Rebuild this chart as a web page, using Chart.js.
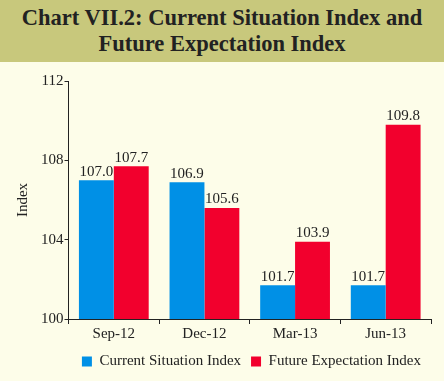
<!DOCTYPE html>
<html>
<head>
<meta charset="utf-8">
<script src="https://cdn.jsdelivr.net/npm/chart.js@4"></script>
<style>
  html,body{margin:0;padding:0;width:444px;height:381px;overflow:hidden;background:#fdfde9;}
  #title{height:62px;background:#c8c87c;color:#222;font-family:"Liberation Serif","Times New Roman",Times,serif;font-weight:bold;font-size:22.5px;line-height:26px;text-align:center;padding-top:5px;box-sizing:border-box;}
  #wrap{position:relative;width:444px;height:319px;}
</style>
</head>
<body>
<div id="title">Chart VII.2: Current Situation Index and<br>Future Expectation Index</div>
<div id="wrap"><canvas id="c" width="444" height="319"></canvas></div>
<script>
const categories = ["Sep-12", "Dec-12", "Mar-13", "Jun-13"];
const currentSituation = [107.0, 106.9, 101.7, 101.7];
const futureExpectation = [107.7, 105.6, 103.9, 109.8];
const yTicks = [100, 104, 108, 112];
const FONT = '"Liberation Serif", "Times New Roman", Times, serif';

const valueLabels = {
  id: 'valueLabels',
  afterDatasetsDraw(chart) {
    const ctx = chart.ctx;
    ctx.save();
    ctx.font = '15px ' + FONT;
    ctx.fillStyle = '#222';
    ctx.textAlign = 'center';
    ctx.textBaseline = 'bottom';
    chart.data.datasets.forEach((ds, i) => {
      chart.getDatasetMeta(i).data.forEach((bar, j) => {
        ctx.fillText(ds.data[j].toFixed(1), bar.x, bar.y - 1);
      });
    });
    ctx.restore();
  }
};

new Chart(document.getElementById('c'), {
  type: 'bar',
  data: {
    labels: categories,
    datasets: [
      {label: 'Current Situation Index', data: currentSituation, backgroundColor: '#0090e6', borderWidth: 0},
      {label: 'Future Expectation Index', data: futureExpectation, backgroundColor: '#f2002d', borderWidth: 0}
    ]
  },
  options: {
    responsive: false,
    animation: false,
    layout: {padding: {top: 19, right: 13, left: 14, bottom: 2}},
    plugins: {
      legend: {
        position: 'bottom',
        align: 'end',
        labels: {
          boxWidth: 10, boxHeight: 10, padding: 10,
          color: '#222',
          font: {family: FONT, size: 15}
        }
      },
      tooltip: {enabled: false}
    },
    datasets: {bar: {categoryPercentage: 0.77, barPercentage: 1.0}},
    scales: {
      x: {
        grid: {offset: true, drawOnChartArea: false, drawTicks: true, tickLength: 5, color: '#222'},
        border: {color: '#222', width: 1},
        ticks: {color: '#222', font: {family: FONT, size: 15}, padding: 1}
      },
      y: {
        min: 100, max: 112,
        afterBuildTicks(axis) { axis.ticks = yTicks.map(v => ({value: v})); },
        grid: {drawOnChartArea: false, drawTicks: true, tickLength: 4, color: '#222'},
        border: {color: '#222', width: 1},
        ticks: {color: '#222', font: {family: FONT, size: 15}, padding: 1},
        title: {display: true, text: 'Index', color: '#222', font: {family: FONT, size: 15}, padding: {top: 0, bottom: 8}}
      }
    }
  },
  plugins: [valueLabels]
});
</script>
</body>
</html>
